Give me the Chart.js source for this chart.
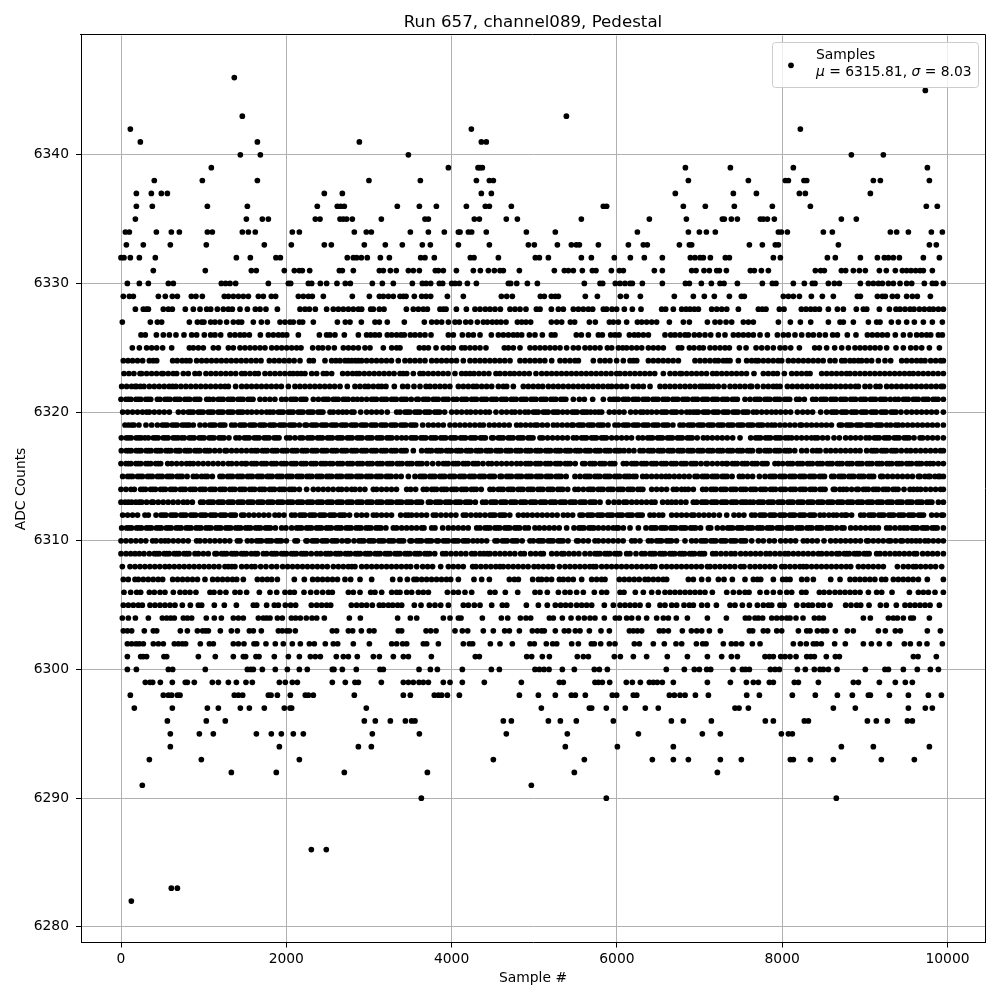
<!DOCTYPE html>
<html>
<head>
<meta charset="utf-8">
<title>Run 657, channel089, Pedestal</title>
<script src="https://cdn.jsdelivr.net/npm/chart.js@4/dist/chart.umd.js"></script>
<style>
html, body { margin: 0; padding: 0; background: #fff; }
canvas { display: block; }
</style>
</head>
<body>
<canvas id="chart" width="1000" height="1000"></canvas>
<script>
const chartTitle = 'Run 657, channel089, Pedestal';
const xLabel = 'Sample #';
const yLabel = 'ADC Counts';
const seriesLabel = 'Samples';
const meanText = '6315.81';
const sigmaText = '8.03';
const xTicks = [0, 2000, 4000, 6000, 8000, 10000];
const yTicks = [6280, 6290, 6300, 6310, 6320, 6330, 6340];

// sample numbers seen at each ADC level
const s6346 = [1371];
const s6345 = [9732];
const s6343 = [1468, 5389];
const s6342 = [113, 4239, 8220];
const s6341 = [234, 1650, 2884, 4360, 4420];
const s6340 = [1444, 1686, 3477, 8837, 9224];
const s6339 = [1093, 3961, 4320, 4344, 4372, 6829, 7373, 8135, 9757];
const s6338 = [403, 984, 1650, 3000, 3622, 4300, 4457, 4505, 6865, 7591, 8038, 8075, 8264, 8297, 9103, 9188, 9781];
const s6337 = [186, 367, 488, 561, 2460, 2678, 4360, 4481, 6707, 7409, 7688, 8208, 8280, 9067];
const s6336 = [186, 379, 1045, 1529, 2375, 2617, 2658, 2702, 3343, 3610, 3816, 4179, 4408, 4457, 4723, 5836, 5876, 6804, 7070, 7421, 7881, 8341, 9744, 9877];
const s6335 = [174, 1517, 1710, 1783, 2351, 2408, 2650, 2690, 2730, 2799, 3150, 3678, 3719, 4275, 4336, 4662, 4796, 5570, 6393, 6841, 7276, 7300, 7385, 7458, 7736, 7772, 7821, 7905, 8716, 8897];
const s6334 = [53, 101, 428, 609, 706, 1045, 1105, 1468, 1541, 1625, 2073, 2158, 2823, 2968, 3029, 3501, 3719, 3912, 4082, 4102, 4203, 4243, 4420, 4905, 5255, 6248, 6865, 6998, 7083, 7191, 7954, 7990, 8063, 8498, 8607, 9309, 9385, 9527, 9805, 9938];
const s6333 = [65, 270, 597, 1032, 1734, 2061, 2460, 2545, 2944, 3198, 3404, 3646, 3743, 4082, 4457, 4929, 5001, 5280, 5449, 5509, 5546, 5776, 6139, 6320, 6368, 6756, 6877, 6905, 7603, 7760, 7917, 7954, 8680, 9781, 9865];
const s6332 = [0, 36, 113, 222, 415, 1396, 1565, 1875, 1928, 2738, 2811, 2851, 2908, 2980, 3138, 3247, 3626, 3678, 3791, 4227, 4271, 4566, 5013, 5062, 5171, 5570, 5691, 5969, 6163, 6332, 6550, 6889, 6945, 7006, 7046, 7131, 7312, 7361, 7893, 7978, 8547, 8643, 8946, 9152, 9236, 9285, 9345, 9418, 9708, 9902];
const s6331 = [391, 1020, 1577, 1637, 1976, 2097, 2158, 2194, 2283, 2642, 2678, 2811, 3126, 3174, 3259, 3331, 3477, 3537, 3610, 3803, 3840, 3900, 4058, 4263, 4348, 4445, 4517, 4586, 4626, 4820, 5243, 5364, 5413, 5473, 5582, 5703, 5747, 5933, 6030, 6078, 6453, 6550, 6905, 6958, 7054, 7119, 7208, 7240, 7325, 7615, 7663, 7748, 7833, 8401, 8466, 8510, 8716, 8768, 8861, 8934, 9006, 9176, 9260, 9369, 9454, 9506, 9559, 9615, 9668, 9708, 9817];
const s6330 = [77, 222, 331, 573, 633, 1214, 1266, 1319, 1387, 1783, 2025, 2053, 2267, 2307, 2412, 2488, 2613, 2714, 2775, 3041, 3162, 3295, 3525, 3646, 3691, 3747, 3852, 3892, 4001, 4041, 4094, 4191, 4300, 4687, 4715, 4788, 4917, 5038, 5606, 5796, 5828, 5981, 6038, 6098, 6159, 6187, 6308, 6550, 6829, 6877, 7022, 7143, 7248, 7296, 7458, 7760, 7881, 7925, 8135, 8268, 8365, 8397, 8559, 8631, 8692, 8946, 9043, 9103, 9164, 9212, 9285, 9345, 9426, 9506, 9567, 9720, 9817, 9861, 9950];
const s6329 = [28, 101, 149, 452, 536, 621, 682, 851, 907, 984, 1250, 1299, 1359, 1420, 1480, 1541, 1662, 1722, 1819, 1871, 2146, 2206, 2267, 2315, 2448, 2799, 3005, 3126, 3174, 3235, 3295, 3376, 3416, 3449, 3549, 3638, 3691, 3747, 3949, 4142, 4602, 4667, 4735, 5074, 5122, 5207, 5255, 5292, 5618, 5764, 6042, 6114, 6284, 6695, 6925, 7058, 7179, 7361, 7506, 7542, 8014, 8075, 8135, 8208, 8353, 8486, 8619, 8910, 8946, 9152, 9212, 9248, 9333, 9394, 9506, 9575, 9635, 9793];
const s6328 = [174, 270, 310, 331, 512, 573, 621, 778, 875, 956, 1037, 1085, 1166, 1238, 1299, 1347, 1440, 1529, 1625, 1682, 1754, 1892, 2166, 2226, 2279, 2351, 2488, 2569, 2630, 2690, 2751, 2811, 2872, 2912, 3021, 3053, 3126, 3182, 3453, 3537, 3598, 3658, 3707, 3860, 3900, 3933, 4058, 4179, 4283, 4344, 4408, 4465, 4525, 4590, 4707, 4767, 4828, 4900, 5026, 5070, 5207, 5292, 5352, 5473, 5534, 5594, 5655, 5707, 5836, 5876, 5941, 5997, 6090, 6187, 6292, 6542, 6590, 6683, 6784, 6837, 6885, 6937, 6986, 7147, 7208, 7268, 7329, 7470, 7712, 7760, 7804, 7966, 8022, 8232, 8288, 8345, 8397, 8450, 8559, 8668, 8740, 8897, 8982, 9023, 9176, 9297, 9377, 9426, 9486, 9547, 9595, 9660, 9720, 9781, 9829, 9890, 9950];
const s6327 = [16, 355, 440, 492, 827, 924, 976, 1004, 1085, 1137, 1198, 1278, 1359, 1420, 1460, 1601, 1698, 1771, 1924, 1984, 2045, 2085, 2158, 2198, 2327, 2618, 2714, 2771, 2908, 3073, 3126, 3222, 3428, 3670, 3759, 3820, 3880, 3961, 4041, 4094, 4171, 4231, 4312, 4384, 4433, 4493, 4546, 4598, 4659, 4796, 4848, 4900, 4957, 5207, 5272, 5332, 5437, 5489, 5667, 5739, 5909, 5957, 6018, 6118, 6248, 6300, 6360, 6421, 6481, 6635, 6804, 6877, 7095, 7187, 7248, 7321, 7389, 7530, 7591, 7651, 7954, 8099, 8220, 8345, 8559, 8700, 8740, 8861, 9043, 9143, 9184, 9321, 9406, 9506, 9599, 9708, 9817, 9938];
const s6326 = [242, 294, 428, 512, 585, 665, 762, 855, 915, 1008, 1085, 1137, 1206, 1319, 1379, 1440, 1492, 1553, 1686, 1783, 1843, 1904, 1956, 2005, 2146, 2400, 2488, 2529, 2589, 2702, 2872, 2972, 3021, 3073, 3126, 3222, 3275, 3335, 3388, 3428, 3501, 3557, 3618, 3678, 3751, 3961, 4021, 4130, 4203, 4263, 4344, 4481, 4566, 4626, 4687, 4747, 4796, 4848, 4941, 5009, 5098, 5207, 5251, 5509, 5570, 5655, 5776, 5824, 5925, 5977, 6026, 6151, 6211, 6260, 6320, 6381, 6582, 6651, 6703, 6764, 6825, 6865, 6937, 6998, 7066, 7135, 7228, 7308, 7409, 7470, 7530, 7591, 7651, 7732, 7821, 7942, 8014, 8075, 8155, 8236, 8317, 8377, 8450, 8522, 8611, 8668, 8788, 8893, 9031, 9091, 9152, 9212, 9273, 9369, 9466, 9547, 9627, 9688, 9748, 9797, 9890, 9938];
const s6325 = [137, 222, 310, 371, 432, 504, 613, 827, 875, 936, 996, 1117, 1178, 1299, 1359, 1440, 1500, 1561, 1621, 1682, 1742, 1823, 1884, 1944, 2005, 2065, 2125, 2178, 2319, 2388, 2440, 2508, 2581, 2690, 2751, 2811, 2872, 2952, 3013, 3174, 3275, 3335, 3376, 3610, 3666, 3719, 3812, 3900, 3961, 4021, 4122, 4162, 4223, 4283, 4344, 4416, 4638, 4687, 4747, 4828, 4949, 5009, 5070, 5130, 5191, 5251, 5312, 5392, 5473, 5534, 5614, 5675, 5735, 5796, 5885, 5937, 6018, 6070, 6118, 6179, 6240, 6300, 6381, 6441, 6501, 6562, 6744, 6784, 6877, 6933, 6998, 7046, 7127, 7187, 7248, 7308, 7361, 7482, 7563, 7684, 7752, 7821, 7893, 7974, 8034, 8103, 8208, 8393, 8450, 8538, 8635, 8720, 8801, 8881, 8942, 9002, 9063, 9123, 9184, 9264, 9377, 9466, 9555, 9619, 9688, 9781, 9902];
const s6324 = [28, 85, 140, 200, 262, 343, 390, 432, 625, 680, 740, 790, 835, 915, 976, 1035, 1095, 1155, 1215, 1275, 1335, 1395, 1455, 1515, 1575, 1635, 1694, 1795, 1855, 1915, 1975, 2035, 2095, 2166, 2279, 2327, 2468, 2549, 2600, 2650, 2710, 2750, 2791, 2835, 2872, 2912, 2972, 3032, 3092, 3152, 3212, 3272, 3355, 3436, 3496, 3556, 3616, 3678, 3759, 3819, 3879, 3939, 3999, 4059, 4142, 4223, 4283, 4343, 4403, 4463, 4523, 4583, 4643, 4707, 4828, 4888, 4948, 5008, 5068, 5128, 5211, 5312, 5372, 5432, 5492, 5534, 5715, 5796, 5856, 5916, 5997, 6078, 6159, 6200, 6240, 6381, 6441, 6501, 6561, 6621, 6681, 6744, 6945, 7006, 7066, 7126, 7186, 7228, 7288, 7330, 7369, 7470, 7570, 7630, 7680, 7712, 7772, 7832, 7892, 7952, 7994, 8075, 8135, 8196, 8256, 8316, 8376, 8436, 8496, 8579, 8639, 8720, 8760, 8821, 8870, 8922, 8962, 9022, 9082, 9164, 9244, 9313, 9446, 9506, 9567, 9627, 9680, 9728, 9797, 9857, 9917, 9950];
const s6323 = [36, 96, 156, 230, 250, 310, 370, 430, 492, 512, 572, 632, 674, 754, 814, 895, 948, 1028, 1088, 1148, 1208, 1268, 1328, 1388, 1460, 1500, 1560, 1620, 1662, 1742, 1803, 1863, 1923, 1983, 2043, 2085, 2134, 2180, 2226, 2307, 2367, 2448, 2488, 2549, 2682, 2742, 2802, 2851, 2884, 2944, 3004, 3064, 3124, 3184, 3244, 3304, 3376, 3416, 3457, 3537, 3618, 3658, 3718, 3778, 3838, 3898, 3958, 4041, 4122, 4172, 4223, 4271, 4331, 4391, 4451, 4537, 4586, 4646, 4706, 4759, 4820, 4880, 4940, 5021, 5090, 5150, 5210, 5270, 5330, 5390, 5450, 5510, 5570, 5630, 5690, 5750, 5810, 5870, 5930, 5997, 6038, 6098, 6158, 6218, 6278, 6338, 6398, 6458, 6562, 6643, 6703, 6763, 6784, 6844, 6904, 6964, 7024, 7084, 7159, 7208, 7268, 7328, 7388, 7448, 7508, 7568, 7659, 7772, 7832, 7892, 7942, 8026, 8115, 8175, 8235, 8295, 8337, 8478, 8538, 8598, 8658, 8718, 8778, 8821, 8881, 8941, 9001, 9061, 9121, 9181, 9241, 9301, 9361, 9421, 9481, 9539, 9587, 9647, 9707, 9767, 9827, 9887, 9950];
const s6322 = [8, 68, 128, 170, 190, 235, 278, 343, 403, 463, 523, 583, 625, 665, 725, 785, 845, 905, 965, 1025, 1085, 1145, 1205, 1258, 1299, 1387, 1460, 1520, 1580, 1640, 1700, 1760, 1820, 1880, 1940, 2025, 2105, 2165, 2225, 2285, 2345, 2405, 2465, 2525, 2585, 2650, 2738, 2831, 2891, 2952, 2993, 3053, 3113, 3154, 3206, 3307, 3408, 3468, 3545, 3618, 3691, 3739, 3799, 3859, 3919, 3979, 4082, 4142, 4202, 4262, 4304, 4364, 4424, 4485, 4566, 4626, 4667, 4747, 4868, 4928, 4988, 5048, 5102, 5171, 5231, 5291, 5351, 5413, 5473, 5533, 5593, 5653, 5713, 5773, 5833, 5893, 5937, 5997, 6057, 6117, 6199, 6260, 6320, 6401, 6522, 6582, 6642, 6702, 6764, 6824, 6884, 6944, 7006, 7038, 7078, 7119, 7167, 7227, 7296, 7369, 7429, 7489, 7549, 7611, 7631, 7700, 7772, 7832, 7892, 7934, 7974, 8063, 8123, 8183, 8243, 8303, 8363, 8423, 8483, 8538, 8587, 8647, 8707, 8767, 8827, 8887, 8922, 9002, 9062, 9135, 9184, 9264, 9324, 9384, 9444, 9504, 9564, 9624, 9684, 9744, 9804, 9864, 9924, 9950];
const s6321 = [0, 60, 120, 180, 240, 300, 360, 440, 472, 532, 592, 652, 712, 772, 832, 892, 952, 1037, 1069, 1117, 1177, 1237, 1297, 1357, 1417, 1477, 1537, 1597, 1682, 1742, 1802, 1862, 1944, 1996, 2056, 2116, 2176, 2236, 2327, 2388, 2448, 2508, 2568, 2628, 2688, 2748, 2808, 2859, 2912, 2972, 3032, 3092, 3152, 3212, 3272, 3332, 3392, 3452, 3512, 3578, 3598, 3658, 3718, 3778, 3838, 3898, 3958, 4021, 4062, 4122, 4182, 4242, 4302, 4362, 4422, 4482, 4542, 4602, 4662, 4722, 4782, 4842, 4902, 4962, 5022, 5082, 5142, 5202, 5262, 5322, 5382, 5473, 5546, 5606, 5707, 5836, 5917, 5957, 6017, 6077, 6137, 6197, 6257, 6317, 6377, 6437, 6497, 6557, 6617, 6677, 6737, 6797, 6857, 6917, 6977, 7037, 7097, 7157, 7217, 7277, 7337, 7397, 7457, 7550, 7611, 7671, 7731, 7791, 7851, 7911, 7971, 8031, 8091, 8175, 8208, 8268, 8369, 8409, 8469, 8529, 8589, 8649, 8709, 8769, 8829, 8889, 8949, 9009, 9069, 9129, 9189, 9249, 9309, 9365, 9406, 9466, 9526, 9586, 9646, 9706, 9766, 9826, 9886, 9950, 90, 210, 330, 562, 682, 802, 922, 1207, 1327, 1447, 1567, 2086, 2206, 2478, 2598, 2718, 3062, 3182, 3302, 3422, 3688, 3808, 3928, 4152, 4272, 4392, 4512, 4632, 4752, 4872, 4992, 5112, 5232, 5352, 5987, 6107, 6227, 6347, 6467, 6587, 6707, 6827, 6947, 7067, 7187, 7307, 7427, 7701, 7821, 7941, 8061, 8499, 8619, 8739, 8859, 8979, 9099, 9219, 9496, 9616, 9736, 9856];
const s6320 = [20, 80, 140, 200, 260, 310, 343, 403, 463, 523, 585, 694, 754, 814, 874, 934, 994, 1054, 1114, 1174, 1234, 1294, 1354, 1414, 1474, 1529, 1581, 1641, 1701, 1762, 1803, 1843, 1903, 1963, 2023, 2083, 2143, 2203, 2263, 2323, 2383, 2443, 2529, 2569, 2629, 2682, 2730, 2790, 2819, 2900, 2972, 3032, 3092, 3152, 3222, 3335, 3376, 3436, 3496, 3556, 3616, 3676, 3736, 3796, 3856, 3916, 4001, 4062, 4122, 4183, 4231, 4291, 4351, 4411, 4457, 4537, 4606, 4666, 4727, 4767, 4827, 4888, 4929, 4989, 5049, 5109, 5169, 5229, 5289, 5344, 5400, 5460, 5520, 5580, 5640, 5683, 5735, 5780, 5816, 5909, 5969, 6029, 6086, 6167, 6227, 6287, 6320, 6369, 6421, 6481, 6541, 6601, 6661, 6721, 6781, 6845, 6885, 6925, 6958, 6986, 7046, 7106, 7166, 7226, 7286, 7346, 7406, 7466, 7526, 7586, 7651, 7692, 7752, 7812, 7872, 7925, 7982, 8042, 8102, 8184, 8248, 8308, 8368, 8466, 8538, 8598, 8658, 8718, 8778, 8838, 8898, 8958, 9018, 9078, 9138, 9198, 9258, 9318, 9378, 9438, 9506, 9567, 9627, 9687, 9747, 9807, 9867, 9950, 844, 964, 1084, 1204, 1324, 1444, 1933, 2053, 2173, 2293, 2413, 3466, 3586, 3706, 3826, 5019, 5139, 5259, 5490, 5610, 6571, 6691, 7076, 7196, 7316, 7436, 7556, 8628, 8748, 8868, 8988, 9108, 9228, 9348];
const s6319 = [48, 90, 129, 157, 217, 302, 371, 440, 500, 560, 620, 680, 740, 800, 827, 875, 956, 1016, 1076, 1136, 1196, 1256, 1339, 1379, 1439, 1499, 1559, 1619, 1679, 1739, 1799, 1859, 1919, 1979, 2039, 2099, 2159, 2226, 2246, 2306, 2366, 2426, 2486, 2546, 2606, 2666, 2726, 2786, 2846, 2906, 2966, 3026, 3086, 3146, 3206, 3266, 3326, 3386, 3446, 3506, 3566, 3650, 3719, 3779, 3839, 3900, 3981, 4041, 4101, 4161, 4221, 4281, 4341, 4384, 4457, 4517, 4577, 4637, 4697, 4787, 4836, 4896, 4956, 5009, 5038, 5098, 5158, 5231, 5279, 5339, 5399, 5453, 5473, 5533, 5593, 5653, 5713, 5773, 5833, 5893, 5977, 6018, 6078, 6138, 6198, 6258, 6318, 6378, 6438, 6498, 6558, 6618, 6678, 6764, 6804, 6864, 6924, 6984, 7044, 7104, 7164, 7224, 7284, 7344, 7404, 7464, 7524, 7584, 7644, 7704, 7764, 7824, 7873, 7913, 7973, 8033, 8093, 8153, 8216, 8236, 8296, 8356, 8416, 8476, 8536, 8596, 8692, 8720, 8780, 8840, 8900, 8960, 9020, 9080, 9140, 9200, 9264, 9313, 9373, 9406, 9458, 9518, 9578, 9638, 9698, 9758, 9818, 9878, 9950, 530, 650, 770, 1106, 1226, 1469, 1589, 1709, 1829, 1949, 2069, 2336, 2456, 2576, 2696, 2816, 2936, 3056, 3176, 3296, 3416, 3536, 5563, 5683, 5803, 6108, 6228, 6348, 6468, 6588, 6894, 7014, 7134, 7254, 7374, 7494, 7614, 7734, 8810, 8930, 9050, 9170];
const s6318 = [4, 64, 124, 184, 244, 290, 331, 391, 451, 511, 571, 631, 691, 734, 766, 826, 886, 946, 1006, 1066, 1126, 1186, 1246, 1306, 1391, 1432, 1492, 1552, 1612, 1672, 1732, 1792, 1852, 1912, 2005, 2045, 2105, 2166, 2198, 2258, 2318, 2378, 2438, 2498, 2558, 2618, 2678, 2738, 2798, 2858, 2918, 2978, 3038, 3098, 3158, 3218, 3278, 3338, 3396, 3449, 3509, 3569, 3629, 3689, 3749, 3809, 3869, 3929, 3989, 4049, 4109, 4169, 4229, 4289, 4349, 4409, 4485, 4505, 4565, 4625, 4685, 4745, 4805, 4865, 4925, 4985, 5070, 5102, 5162, 5222, 5282, 5342, 5402, 5473, 5513, 5573, 5633, 5693, 5753, 5813, 5873, 5937, 5997, 6057, 6117, 6177, 6260, 6312, 6372, 6432, 6492, 6552, 6612, 6672, 6732, 6792, 6852, 6912, 6972, 7046, 7095, 7155, 7215, 7275, 7335, 7401, 7490, 7619, 7679, 7739, 7799, 7859, 7919, 7979, 8039, 8075, 8115, 8175, 8235, 8295, 8355, 8397, 8429, 8489, 8549, 8627, 8692, 8768, 8828, 8888, 8948, 9014, 9055, 9115, 9175, 9235, 9295, 9355, 9415, 9475, 9535, 9595, 9668, 9700, 9760, 9820, 9880, 9950, 94, 214, 421, 541, 661, 856, 976, 1096, 1216, 1522, 1642, 1762, 1882, 2288, 2408, 2528, 2648, 2768, 2888, 3008, 3128, 3248, 3539, 3659, 3779, 3899, 4019, 4139, 4259, 4379, 4595, 4715, 4835, 4955, 5603, 5723, 5843, 6402, 6522, 6642, 6762, 6882, 7709, 7829, 7949, 9145, 9265, 9385, 9505];
const s6317 = [4, 64, 124, 184, 244, 304, 364, 424, 484, 544, 604, 664, 694, 714, 774, 834, 894, 954, 1014, 1074, 1134, 1194, 1258, 1278, 1338, 1398, 1458, 1518, 1578, 1621, 1650, 1710, 1770, 1830, 1890, 1950, 2010, 2070, 2130, 2190, 2250, 2310, 2370, 2430, 2490, 2550, 2610, 2670, 2730, 2790, 2850, 2910, 2970, 3030, 3090, 3150, 3210, 3270, 3330, 3390, 3450, 3537, 3638, 3698, 3758, 3818, 3878, 3938, 3998, 4058, 4118, 4178, 4238, 4298, 4358, 4418, 4478, 4538, 4598, 4658, 4718, 4778, 4838, 4898, 4958, 5018, 5078, 5138, 5198, 5258, 5318, 5378, 5438, 5498, 5558, 5618, 5678, 5738, 5798, 5858, 5918, 5978, 6038, 6086, 6146, 6206, 6280, 6320, 6380, 6440, 6500, 6560, 6620, 6680, 6740, 6800, 6860, 6920, 6980, 7040, 7100, 7160, 7220, 7280, 7340, 7400, 7460, 7520, 7580, 7640, 7712, 7732, 7792, 7852, 7912, 7972, 8032, 8092, 8152, 8236, 8296, 8369, 8420, 8458, 8530, 8587, 8647, 8707, 8767, 8827, 8887, 8942, 9022, 9082, 9142, 9202, 9262, 9322, 9382, 9442, 9506, 9555, 9615, 9675, 9735, 9795, 9855, 9915, 9950, 94, 214, 334, 454, 574, 804, 924, 1044, 1740, 1860, 1980, 2100, 2220, 2340, 2460, 2580, 2700, 2820, 2940, 3060, 3180, 3300, 3420, 3728, 3848, 3968, 4088, 4208, 4328, 4448, 4568, 4688, 4808, 4928, 5048, 5168, 5288, 5408, 5528, 5648, 5768, 5888, 6008, 6410, 6530, 6650, 6770, 6890, 7010, 7130, 7250, 7370, 7490, 7610, 7822, 7942, 8062, 9112, 9232, 9352];
const s6316 = [0, 60, 120, 180, 240, 300, 360, 420, 480, 565, 613, 673, 733, 793, 835, 875, 935, 995, 1055, 1115, 1175, 1235, 1299, 1339, 1399, 1459, 1500, 1520, 1580, 1640, 1700, 1760, 1820, 1880, 1940, 2000, 2060, 2120, 2180, 2240, 2300, 2360, 2420, 2480, 2529, 2561, 2621, 2681, 2741, 2801, 2861, 2921, 2981, 3041, 3101, 3161, 3221, 3281, 3341, 3401, 3461, 3521, 3581, 3641, 3701, 3771, 3840, 3900, 3960, 4020, 4080, 4140, 4200, 4260, 4320, 4380, 4445, 4485, 4545, 4605, 4665, 4725, 4787, 4836, 4896, 4956, 5016, 5076, 5136, 5196, 5256, 5316, 5376, 5436, 5496, 5586, 5614, 5674, 5734, 5794, 5854, 5914, 5974, 6078, 6118, 6178, 6238, 6298, 6358, 6418, 6478, 6538, 6598, 6658, 6718, 6778, 6838, 6898, 6958, 7018, 7079, 7095, 7155, 7215, 7275, 7321, 7337, 7397, 7457, 7517, 7577, 7637, 7697, 7757, 7817, 7913, 7954, 8006, 8066, 8126, 8186, 8246, 8306, 8366, 8426, 8486, 8546, 8606, 8666, 8726, 8786, 8846, 8906, 8966, 9026, 9086, 9146, 9206, 9266, 9326, 9386, 9446, 9506, 9566, 9626, 9686, 9746, 9789, 9829, 9889, 9950, 90, 210, 330, 450, 1610, 1730, 1850, 1970, 2090, 2210, 2330, 2450, 2651, 2771, 2891, 3011, 3131, 3251, 3371, 3491, 3611, 3930, 4050, 4170, 4290, 4926, 5046, 5166, 5286, 5406, 5704, 5824, 5944, 6208, 6328, 6448, 6568, 6688, 6808, 6928, 7427, 7547, 7667, 7787, 8096, 8216, 8336, 8456, 8576, 8696, 8816, 8936, 9056, 9176, 9296, 9416, 9536, 9656];
const s6315 = [20, 80, 140, 200, 260, 320, 380, 440, 500, 560, 620, 680, 740, 800, 875, 915, 975, 1016, 1045, 1105, 1198, 1230, 1290, 1350, 1410, 1470, 1530, 1590, 1650, 1710, 1770, 1830, 1890, 1950, 2010, 2070, 2130, 2190, 2250, 2310, 2370, 2430, 2490, 2550, 2610, 2670, 2730, 2790, 2850, 2910, 2970, 3030, 3090, 3150, 3210, 3270, 3330, 3390, 3477, 3557, 3617, 3677, 3737, 3797, 3857, 3917, 3977, 4037, 4097, 4157, 4217, 4277, 4337, 4397, 4457, 4517, 4586, 4606, 4666, 4726, 4786, 4846, 4906, 4966, 5026, 5086, 5146, 5206, 5266, 5326, 5386, 5493, 5554, 5614, 5674, 5734, 5794, 5854, 5914, 5974, 6034, 6094, 6154, 6199, 6231, 6312, 6360, 6420, 6480, 6540, 6594, 6635, 6695, 6755, 6815, 6875, 6945, 6974, 7034, 7094, 7154, 7214, 7274, 7334, 7394, 7482, 7522, 7582, 7642, 7724, 7792, 7852, 7912, 7972, 8032, 8092, 8152, 8212, 8272, 8332, 8392, 8452, 8512, 8599, 8627, 8687, 8747, 8807, 8867, 8927, 8987, 9047, 9107, 9192, 9216, 9276, 9336, 9396, 9456, 9516, 9576, 9648, 9668, 9728, 9769, 9789, 9849, 9890, 9910, 9950, 110, 230, 350, 470, 590, 710, 1320, 1440, 1560, 1680, 1800, 1920, 2040, 2160, 2280, 2400, 2520, 2640, 2760, 2880, 3000, 3120, 3240, 3647, 3767, 3887, 4007, 4127, 4247, 4367, 4487, 4696, 4816, 4936, 5056, 5176, 5296, 5644, 5764, 5884, 6004, 6124, 7064, 7184, 7304, 7882, 8002, 8122, 8242, 8362, 8482, 8717, 8837, 8957, 9077];
const s6314 = [0, 60, 120, 161, 238, 298, 358, 418, 478, 538, 598, 658, 718, 778, 838, 898, 958, 1018, 1078, 1138, 1198, 1258, 1318, 1378, 1438, 1498, 1558, 1618, 1678, 1738, 1798, 1858, 1918, 1978, 2038, 2098, 2158, 2246, 2327, 2387, 2447, 2507, 2567, 2630, 2670, 2730, 2791, 2831, 2891, 2951, 3053, 3093, 3153, 3213, 3273, 3333, 3457, 3505, 3565, 3658, 3699, 3759, 3819, 3879, 3939, 3999, 4059, 4119, 4179, 4239, 4299, 4359, 4465, 4505, 4565, 4625, 4685, 4745, 4805, 4865, 4925, 4985, 5045, 5105, 5165, 5225, 5285, 5345, 5405, 5493, 5534, 5594, 5654, 5714, 5774, 5834, 5894, 5954, 6014, 6074, 6134, 6194, 6254, 6314, 6421, 6481, 6541, 6601, 6683, 6723, 6783, 6824, 6865, 6925, 7038, 7079, 7139, 7199, 7259, 7319, 7379, 7439, 7499, 7559, 7619, 7679, 7739, 7799, 7859, 7919, 7979, 8039, 8099, 8159, 8219, 8279, 8339, 8399, 8459, 8519, 8619, 8639, 8699, 8740, 8780, 8840, 8901, 8922, 8982, 9042, 9102, 9162, 9222, 9282, 9342, 9402, 9474, 9547, 9590, 9635, 9676, 9736, 9796, 9856, 9916, 9950, 268, 388, 508, 628, 748, 868, 988, 1108, 1228, 1348, 1468, 1588, 1708, 1828, 1948, 2068, 3789, 3909, 4029, 4149, 4269, 4595, 4715, 4835, 4955, 5075, 5195, 5315, 5684, 5804, 5924, 6044, 6164, 6284, 7169, 7289, 7409, 7529, 7649, 7769, 7889, 8009, 8129, 8249, 8369, 8489, 9012, 9132, 9252, 9372];
const s6313 = [0, 50, 89, 129, 180, 222, 250, 310, 371, 391, 451, 511, 571, 631, 691, 754, 803, 863, 964, 996, 1056, 1116, 1176, 1236, 1296, 1356, 1416, 1476, 1536, 1596, 1656, 1716, 1776, 1836, 1896, 1956, 2016, 2076, 2136, 2196, 2256, 2316, 2376, 2436, 2496, 2556, 2616, 2676, 2736, 2796, 2856, 2916, 2976, 3036, 3096, 3156, 3216, 3276, 3336, 3396, 3456, 3516, 3576, 3636, 3719, 3747, 3807, 3867, 3927, 3987, 4047, 4107, 4167, 4227, 4287, 4376, 4416, 4476, 4536, 4596, 4656, 4716, 4776, 4836, 4896, 4956, 5016, 5076, 5136, 5196, 5256, 5316, 5376, 5436, 5496, 5556, 5616, 5676, 5736, 5796, 5897, 5965, 6025, 6085, 6118, 6179, 6239, 6299, 6359, 6419, 6461, 6554, 6614, 6663, 6715, 6775, 6835, 6925, 6966, 7026, 7086, 7146, 7206, 7266, 7326, 7386, 7446, 7506, 7566, 7611, 7651, 7711, 7771, 7831, 7891, 7951, 8011, 8071, 8131, 8191, 8251, 8311, 8371, 8431, 8491, 8551, 8611, 8671, 8731, 8791, 8851, 8911, 8971, 9031, 9091, 9151, 9211, 9271, 9331, 9391, 9451, 9511, 9571, 9631, 9691, 9751, 9811, 9890, 9950, 1086, 1206, 1326, 1446, 1566, 1686, 1806, 1926, 2046, 2166, 2286, 2406, 2526, 2646, 2766, 2886, 3006, 3126, 3246, 3366, 3486, 3606, 3837, 3957, 4077, 4197, 4506, 4626, 4746, 4866, 4986, 5106, 5226, 5346, 5466, 5586, 5706, 7056, 7176, 7296, 7416, 7536, 7741, 7861, 7981, 8101, 8221, 8341, 8461, 8581, 8701, 8821, 8941, 9061, 9181, 9301, 9421, 9541, 9661, 9781];
const s6312 = [20, 80, 140, 200, 290, 331, 424, 484, 544, 604, 664, 724, 784, 844, 904, 964, 1024, 1084, 1144, 1204, 1264, 1324, 1384, 1460, 1488, 1548, 1608, 1668, 1728, 1788, 1863, 1912, 1972, 2065, 2105, 2165, 2225, 2285, 2345, 2405, 2465, 2525, 2585, 2645, 2705, 2765, 2851, 2912, 2972, 3053, 3093, 3153, 3213, 3273, 3384, 3444, 3477, 3517, 3577, 3637, 3697, 3779, 3812, 3872, 3932, 3992, 4052, 4142, 4175, 4235, 4295, 4344, 4404, 4464, 4524, 4584, 4644, 4704, 4808, 4868, 4917, 4977, 5037, 5097, 5157, 5217, 5277, 5352, 5405, 5465, 5554, 5586, 5646, 5706, 5766, 5826, 5886, 5946, 6006, 6066, 6126, 6186, 6246, 6306, 6401, 6449, 6509, 6554, 6663, 6723, 6783, 6843, 6905, 6933, 6993, 7053, 7113, 7173, 7240, 7329, 7417, 7477, 7537, 7631, 7671, 7731, 7791, 7851, 7911, 7971, 8031, 8091, 8151, 8211, 8271, 8331, 8391, 8458, 8506, 8566, 8619, 8660, 8720, 8760, 8780, 8840, 8950, 8990, 9050, 9110, 9170, 9230, 9290, 9350, 9410, 9470, 9530, 9590, 9650, 9710, 9809, 9869, 9929, 9950, 514, 634, 754, 874, 994, 1114, 1234, 1354, 2195, 2315, 2435, 2555, 2675, 4494, 4614, 5676, 5796, 5916, 6036, 6156, 6276, 7761, 7881, 8001, 8121, 8241, 8361, 9080, 9200, 9320, 9440, 9560, 9680];
const s6311 = [8, 68, 128, 188, 248, 308, 368, 428, 488, 548, 608, 668, 728, 788, 848, 908, 968, 1028, 1088, 1148, 1208, 1268, 1328, 1388, 1448, 1508, 1568, 1628, 1688, 1748, 1808, 1868, 1944, 1996, 2065, 2125, 2185, 2245, 2305, 2365, 2425, 2485, 2545, 2605, 2665, 2725, 2785, 2845, 2905, 2965, 3025, 3085, 3145, 3205, 3295, 3335, 3396, 3456, 3516, 3576, 3638, 3666, 3759, 3799, 3892, 3961, 4021, 4081, 4141, 4201, 4304, 4344, 4404, 4464, 4524, 4584, 4644, 4704, 4764, 4824, 4888, 4929, 5009, 5062, 5122, 5182, 5242, 5302, 5392, 5481, 5541, 5601, 5661, 5721, 5776, 5836, 5896, 5956, 5997, 6018, 6078, 6159, 6260, 6352, 6412, 6472, 6532, 6592, 6652, 6712, 6772, 6832, 6892, 6952, 7012, 7107, 7135, 7216, 7280, 7340, 7400, 7460, 7520, 7580, 7640, 7700, 7760, 7820, 7880, 7940, 8000, 8060, 8120, 8180, 8240, 8300, 8360, 8420, 8480, 8540, 8600, 8660, 8720, 8748, 8829, 8889, 8949, 9009, 9069, 9115, 9164, 9264, 9305, 9365, 9425, 9474, 9515, 9575, 9635, 9695, 9755, 9815, 9875, 9950, 98, 218, 338, 458, 578, 698, 818, 938, 1058, 1178, 1298, 1418, 1538, 1658, 1778, 2155, 2275, 2395, 2515, 2635, 2755, 2875, 2995, 3115, 4434, 4554, 4674, 4794, 5571, 5691, 6442, 6562, 6682, 6802, 6922, 7370, 7490, 7610, 7730, 7850, 7970, 8090, 8210, 8330, 8450, 8570, 9605, 9725, 9845];
const s6310 = [0, 60, 120, 180, 240, 300, 383, 424, 484, 532, 573, 633, 693, 753, 813, 915, 956, 1016, 1076, 1136, 1196, 1256, 1316, 1408, 1440, 1529, 1581, 1641, 1701, 1761, 1821, 1881, 1941, 2001, 2105, 2134, 2238, 2254, 2314, 2374, 2434, 2494, 2554, 2614, 2674, 2730, 2751, 2819, 2879, 2939, 2999, 3059, 3119, 3179, 3239, 3299, 3359, 3419, 3497, 3517, 3577, 3637, 3697, 3757, 3819, 3840, 3900, 3960, 4020, 4080, 4140, 4200, 4260, 4312, 4364, 4424, 4525, 4554, 4614, 4674, 4734, 4794, 4854, 4949, 4989, 5049, 5109, 5169, 5229, 5289, 5349, 5409, 5513, 5534, 5594, 5654, 5735, 5776, 5836, 5896, 5956, 6016, 6076, 6179, 6219, 6279, 6381, 6421, 6481, 6541, 6601, 6661, 6721, 6824, 6905, 6958, 7018, 7078, 7138, 7198, 7258, 7318, 7378, 7438, 7498, 7558, 7631, 7712, 7772, 7845, 7905, 7982, 8042, 8102, 8162, 8256, 8304, 8364, 8424, 8506, 8587, 8647, 8707, 8767, 8827, 8887, 8947, 9022, 9043, 9103, 9163, 9223, 9285, 9313, 9373, 9434, 9458, 9518, 9567, 9619, 9668, 9728, 9769, 9829, 9889, 9950, 1671, 1791, 1911, 2344, 2464, 2584, 2909, 3029, 3149, 3269, 3389, 3607, 3727, 3930, 4050, 4170, 4644, 4764, 5079, 5199, 5319, 6511, 6631, 7048, 7168, 7288, 7408, 7528];
const s6309 = [0, 61, 117, 170, 222, 278, 343, 403, 463, 523, 583, 643, 703, 763, 823, 895, 936, 996, 1056, 1137, 1157, 1217, 1277, 1337, 1397, 1457, 1517, 1577, 1621, 1650, 1722, 1762, 1822, 1882, 1942, 2002, 2062, 2122, 2182, 2242, 2302, 2368, 2416, 2476, 2536, 2596, 2656, 2716, 2776, 2836, 2896, 2956, 3016, 3076, 3136, 3196, 3256, 3316, 3376, 3436, 3496, 3556, 3616, 3676, 3736, 3796, 3892, 3933, 3993, 4053, 4113, 4173, 4243, 4283, 4344, 4390, 4433, 4465, 4525, 4585, 4645, 4705, 4765, 4836, 4880, 4957, 5017, 5077, 5110, 5211, 5272, 5332, 5360, 5420, 5480, 5540, 5614, 5675, 5735, 5795, 5855, 5915, 5975, 6035, 6118, 6159, 6231, 6300, 6340, 6400, 6460, 6520, 6580, 6640, 6700, 6760, 6820, 6880, 6940, 7000, 7060, 7159, 7200, 7260, 7320, 7380, 7429, 7498, 7558, 7618, 7678, 7738, 7804, 7853, 7913, 7973, 8033, 8075, 8135, 8195, 8255, 8315, 8375, 8438, 8478, 8538, 8598, 8660, 8692, 8752, 8812, 8872, 8932, 8992, 9052, 9143, 9184, 9244, 9304, 9365, 9418, 9478, 9538, 9598, 9627, 9700, 9760, 9820, 9880, 9950, 433, 553, 673, 793, 1247, 1367, 1487, 1852, 1972, 2092, 2212, 2506, 2626, 2746, 2866, 2986, 3106, 3226, 3346, 3466, 3586, 3706, 5765, 5885, 6005, 6430, 6550, 6670, 6790, 6910, 7030, 8782, 8902, 9022];
const s6308 = [16, 109, 169, 229, 289, 349, 409, 469, 532, 585, 645, 705, 765, 825, 885, 945, 1005, 1065, 1125, 1185, 1258, 1299, 1340, 1379, 1460, 1520, 1580, 1621, 1690, 1754, 1823, 1884, 1956, 2016, 2076, 2136, 2196, 2256, 2316, 2376, 2436, 2496, 2569, 2630, 2690, 2750, 2791, 2831, 2912, 2972, 3033, 3093, 3153, 3213, 3273, 3333, 3393, 3453, 3505, 3578, 3650, 3710, 3770, 3868, 3961, 4021, 4081, 4141, 4255, 4295, 4355, 4415, 4475, 4535, 4586, 4626, 4686, 4746, 4806, 4866, 4926, 4997, 5050, 5110, 5170, 5223, 5304, 5372, 5432, 5492, 5552, 5612, 5672, 5715, 5747, 5816, 5876, 5936, 5996, 6056, 6116, 6179, 6240, 6300, 6360, 6420, 6461, 6542, 6602, 6662, 6722, 6782, 6842, 6902, 6962, 7022, 7095, 7127, 7187, 7247, 7307, 7367, 7427, 7498, 7538, 7611, 7671, 7731, 7791, 7851, 7911, 7994, 8034, 8094, 8154, 8214, 8256, 8296, 8356, 8416, 8476, 8536, 8596, 8656, 8716, 8776, 8829, 8922, 8982, 9042, 9102, 9164, 9224, 9394, 9466, 9526, 9586, 9619, 9676, 9736, 9796, 9856, 9930];
const s6307 = [28, 88, 170, 210, 270, 330, 390, 450, 504, 625, 685, 745, 805, 865, 925, 1016, 1109, 1169, 1229, 1289, 1349, 1400, 1480, 1650, 1710, 1770, 1823, 1892, 2097, 2218, 2319, 2379, 2439, 2499, 2559, 2619, 2710, 2779, 2892, 3033, 3287, 3376, 3465, 3545, 3578, 3638, 3698, 3758, 3818, 3878, 3938, 3989, 4082, 4271, 4364, 4457, 4699, 4760, 4808, 4981, 5050, 5090, 5150, 5210, 5304, 5352, 5412, 5472, 5574, 5695, 5755, 5815, 5856, 6030, 6090, 6150, 6210, 6270, 6340, 6381, 6441, 6501, 6561, 6602, 6865, 6925, 7026, 7107, 7228, 7296, 7397, 7550, 7651, 7700, 7740, 7893, 8006, 8050, 8095, 8236, 8300, 8377, 8587, 8700, 8821, 8881, 8941, 9001, 9061, 9121, 9204, 9252, 9345, 9405, 9465, 9525, 9585, 9648, 9756, 9950];
const s6306 = [36, 117, 190, 238, 343, 403, 472, 532, 633, 714, 775, 835, 907, 1077, 1125, 1198, 1270, 1379, 1440, 1520, 1674, 1803, 1884, 1984, 2045, 2097, 2214, 2295, 2368, 2440, 2509, 2557, 2751, 2811, 2892, 3021, 3073, 3154, 3275, 3335, 3376, 3457, 3517, 3598, 3658, 3719, 3949, 4021, 4082, 4162, 4243, 4465, 4525, 4650, 4800, 5009, 5070, 5158, 5292, 5372, 5433, 5513, 5594, 5727, 5816, 5876, 6038, 6086, 6223, 6320, 6421, 6501, 6582, 6643, 6703, 6764, 6825, 6885, 6945, 7006, 7066, 7155, 7329, 7409, 7482, 7550, 7599, 7732, 7813, 7893, 7974, 8055, 8115, 8236, 8288, 8450, 8506, 8571, 8639, 8700, 8760, 8821, 8881, 8942, 9043, 9143, 9204, 9329, 9539, 9648, 9708, 9769, 9849, 9950];
const s6305 = [28, 89, 149, 210, 258, 351, 411, 472, 532, 593, 653, 742, 839, 936, 976, 1129, 1250, 1396, 1601, 1642, 1762, 1855, 1904, 1988, 2053, 2113, 2303, 2368, 2428, 2488, 2537, 2787, 2851, 2912, 2972, 3041, 3126, 3174, 3235, 3287, 3347, 3396, 3549, 3630, 3731, 3799, 3868, 3961, 4142, 4203, 4275, 4344, 4485, 4614, 4667, 4905, 5050, 5158, 5255, 5320, 5380, 5441, 5513, 5574, 5634, 5695, 5848, 5957, 6038, 6098, 6159, 6219, 6280, 6381, 6522, 6582, 6663, 6723, 6812, 6877, 6925, 7026, 7095, 7204, 7369, 7429, 7518, 7603, 7700, 7772, 7833, 7873, 7974, 8022, 8176, 8256, 8317, 8365, 8438, 8498, 8579, 8768, 8833, 8901, 8950, 9051, 9188, 9260, 9381, 9486, 9547, 9607, 9668, 9728, 9789, 9902];
const s6304 = [16, 89, 174, 331, 500, 553, 601, 645, 754, 803, 855, 1032, 1129, 1214, 1359, 1420, 1480, 1662, 1722, 1762, 1803, 1892, 1952, 2061, 2113, 2170, 2242, 2311, 2368, 2460, 2763, 2896, 3347, 3501, 3578, 3900, 3981, 4082, 4114, 4372, 4602, 4679, 4832, 4900, 4957, 5183, 5231, 5340, 5445, 5534, 5606, 5675, 5735, 5848, 5981, 6030, 6118, 6179, 6260, 6360, 6481, 6562, 6623, 6719, 6853, 7095, 7325, 7554, 7599, 7671, 7712, 7764, 7873, 7934, 7994, 8055, 8095, 8167, 8252, 8389, 8446, 8498, 8982, 9067, 9285, 9345, 9394, 9466, 9555, 9587, 9781];
const s6303 = [28, 77, 129, 282, 391, 432, 718, 803, 924, 988, 1024, 1057, 1202, 1335, 1408, 1553, 1601, 1698, 1904, 1952, 2005, 2037, 2109, 2557, 2609, 2751, 2803, 2908, 3005, 3061, 3355, 3396, 3691, 3747, 3812, 4041, 4130, 4195, 4384, 4505, 4642, 4699, 4820, 4977, 5038, 5090, 5122, 5255, 5364, 5417, 5497, 5554, 5667, 5808, 5909, 6151, 6199, 6248, 6300, 6514, 6562, 6623, 6792, 6901, 6966, 7026, 7119, 7252, 7603, 7643, 7772, 7825, 7934, 7994, 8196, 8297, 8337, 8426, 8490, 8538, 8643, 8788, 8861, 9164, 9248, 9369, 9430, 9756, 9914];
const s6302 = [77, 129, 182, 222, 270, 391, 452, 512, 645, 694, 742, 782, 960, 1069, 1117, 1359, 1420, 1488, 1609, 1642, 1754, 1867, 1964, 2073, 2170, 2279, 2339, 2472, 2569, 2622, 2811, 3005, 3275, 3335, 3408, 3457, 3658, 3699, 3840, 4142, 4215, 4255, 4469, 4586, 4735, 4949, 5001, 5146, 5223, 5272, 5453, 5534, 5691, 5727, 5804, 5909, 5977, 6211, 6272, 6441, 6574, 6715, 6784, 6962, 7038, 7079, 7288, 7385, 7442, 7510, 7639, 7732, 8135, 8220, 8292, 8377, 8417, 8474, 8635, 8764, 8982, 9079, 9176, 9297, 9478, 9551, 9660, 9752, 9938];
const s6301 = [77, 238, 270, 310, 520, 553, 936, 1141, 1359, 1480, 1508, 1633, 1670, 1855, 2025, 2158, 2291, 2351, 2412, 2605, 2690, 2751, 2859, 3053, 3126, 3295, 3416, 3477, 3755, 4287, 4336, 4909, 4969, 5098, 5183, 5521, 5594, 5655, 5969, 6042, 6199, 6360, 6610, 6853, 7095, 7268, 7385, 7458, 7792, 7845, 7893, 7982, 8034, 8095, 8168, 8297, 8345, 8389, 8534, 8643, 8692, 9587, 9644, 9865];
const s6300 = [77, 186, 573, 625, 1020, 1529, 1569, 1601, 1710, 1867, 2013, 2158, 2254, 2557, 2577, 2678, 2847, 3134, 3174, 3606, 3743, 3828, 4130, 4481, 4578, 5009, 5062, 5118, 5179, 5340, 5485, 5727, 5788, 5885, 6598, 6816, 6937, 6998, 7087, 7135, 7405, 7518, 7558, 7603, 7857, 7913, 7966, 8184, 8280, 8389, 8458, 8498, 8559, 8664, 9006, 9244, 9285, 9466, 9635, 9793, 9890];
const s6299 = [294, 351, 383, 476, 621, 778, 803, 887, 1105, 1178, 1299, 1396, 1512, 1589, 1916, 1988, 2073, 2134, 2557, 2714, 2831, 2872, 3150, 3416, 3477, 3537, 3606, 3658, 3719, 3900, 3981, 4130, 4396, 4844, 5304, 5352, 5735, 5776, 5824, 5913, 6114, 6187, 6284, 6393, 6441, 6489, 6550, 6683, 7095, 7373, 7567, 7651, 7712, 7845, 7893, 8147, 8196, 8438, 8861, 8922, 9176, 9369, 9490, 9575];
const s6298 = [113, 512, 573, 613, 682, 714, 1371, 1420, 1472, 1783, 1815, 1892, 2049, 2230, 2267, 2327, 2823, 3416, 3501, 3791, 3840, 3880, 3949, 4094, 4820, 5050, 5255, 5449, 5497, 5618, 5945, 5997, 6199, 6240, 6635, 6695, 6764, 6825, 6950, 7107, 7571, 7724, 8123, 8401, 8668, 8849, 9043, 9067, 9297, 9527, 9769, 9926];
const s6297 = [161, 621, 1045, 1178, 1444, 1553, 1734, 1976, 2045, 2065, 2968, 5086, 5667, 5695, 5872, 6102, 6344, 6501, 7429, 7478, 7591, 8619, 8885, 9527, 9732, 9817];
const s6296 = [561, 1032, 1262, 2944, 3077, 3259, 3441, 3517, 3557, 4626, 4723, 5171, 5316, 5509, 5957, 6659, 6804, 7143, 7796, 7893, 8268, 8317, 9031, 9139, 9273, 9515, 9575];
const s6295 = [597, 948, 1117, 1638, 1819, 1940, 2085, 2206, 3041, 3610, 4662, 5400, 6260, 7034, 7252, 7990, 8075, 8123];
const s6294 = [597, 1916, 2872, 3029, 5376, 6006, 6683, 8716, 9103, 9781];
const s6293 = [343, 972, 2158, 4505, 5606, 6429, 6683, 6865, 7252, 7506, 8099, 8135, 8341, 8619, 9200, 9599];
const s6292 = [1335, 1879, 2702, 3707, 5485, 7216];
const s6291 = [258, 4965];
const s6290 = [3634, 5872, 8655];
const s6286 = [2303, 2484];
const s6283 = [609, 682];
const s6282 = [125];

const levels = [
    [6346, s6346], [6345, s6345], [6343, s6343], [6342, s6342], [6341, s6341], [6340, s6340],
    [6339, s6339], [6338, s6338], [6337, s6337], [6336, s6336], [6335, s6335], [6334, s6334],
    [6333, s6333], [6332, s6332], [6331, s6331], [6330, s6330], [6329, s6329], [6328, s6328],
    [6327, s6327], [6326, s6326], [6325, s6325], [6324, s6324], [6323, s6323], [6322, s6322],
    [6321, s6321], [6320, s6320], [6319, s6319], [6318, s6318], [6317, s6317], [6316, s6316],
    [6315, s6315], [6314, s6314], [6313, s6313], [6312, s6312], [6311, s6311], [6310, s6310],
    [6309, s6309], [6308, s6308], [6307, s6307], [6306, s6306], [6305, s6305], [6304, s6304],
    [6303, s6303], [6302, s6302], [6301, s6301], [6300, s6300], [6299, s6299], [6298, s6298],
    [6297, s6297], [6296, s6296], [6295, s6295], [6294, s6294], [6293, s6293], [6292, s6292],
    [6291, s6291], [6290, s6290], [6286, s6286], [6283, s6283], [6282, s6282],
];

const points = levels.flatMap(([level, samples]) => samples.map((sample) => ({ x: sample, y: level })));

const fontFamily = '"DejaVu Sans"';

// top and right spines, matplotlib draws all four
const framePlugin = {
    id: 'frame',
    afterDatasetsDraw(chart) {
        const { ctx, chartArea } = chart;
        const top = Math.floor(chartArea.top) - 0.5;
        const right = Math.floor(chartArea.right) + 0.5;
        const bottom = Math.floor(chartArea.bottom) + 0.5;
        ctx.save();
        ctx.strokeStyle = '#000';
        ctx.lineWidth = 1;
        ctx.beginPath();
        ctx.moveTo(chartArea.left - 1, top);
        ctx.lineTo(right, top);
        ctx.lineTo(right, bottom);
        ctx.stroke();
        ctx.restore();
    },
};

// legend box with the mu/sigma line
const statsLegendPlugin = {
    id: 'statsLegend',
    afterDraw(chart) {
        const { ctx } = chart;
        ctx.save();
        ctx.beginPath();
        ctx.roundRect(772.5, 42.5, 206, 45, 3);
        ctx.fillStyle = 'rgba(255, 255, 255, 0.8)';
        ctx.fill();
        ctx.strokeStyle = '#cccccc';
        ctx.lineWidth = 1;
        ctx.stroke();

        ctx.fillStyle = '#000';
        ctx.beginPath();
        ctx.arc(791, 65.3, 2.85, 0, Math.PI * 2);
        ctx.fill();

        ctx.textBaseline = 'alphabetic';
        ctx.textAlign = 'left';
        ctx.font = `13.89px ${fontFamily}`;
        ctx.fillText(seriesLabel, 816, 59);

        let cursor = 816;
        const parts = [
            ['\u03bc', true], [` = ${meanText}, `, false],
            ['\u03c3', true], [` = ${sigmaText}`, false],
        ];
        parts.forEach(([text, italic]) => {
            ctx.font = `${italic ? 'italic ' : ''}13.89px ${fontFamily}`;
            ctx.fillText(text, cursor, 76);
            cursor += ctx.measureText(text).width;
        });
        ctx.restore();
    },
};

new Chart(document.getElementById('chart'), {
    type: 'scatter',
    data: {
        datasets: [{
            label: seriesLabel,
            data: points,
            backgroundColor: '#000',
            borderWidth: 0,
            pointRadius: 2.85,
        }],
    },
    options: {
        responsive: false,
        animation: false,
        devicePixelRatio: 1,
        layout: { padding: { right: 15 } },
        font: { family: fontFamily },
        plugins: {
            legend: { display: false },
            tooltip: { enabled: false },
            title: {
                display: true,
                text: chartTitle,
                fullSize: false,
                color: '#000',
                font: { family: fontFamily, size: 16.67, weight: 'normal' },
                padding: { top: 12.5, bottom: 3 },
            },
        },
        scales: {
            x: {
                type: 'linear',
                min: -484,
                max: 10454,
                afterFit(scale) { scale.height = 57.5; },
                afterBuildTicks(scale) { scale.ticks = xTicks.map((value) => ({ value })); },
                grid: { color: '#b0b0b0', lineWidth: 1, tickColor: '#000', tickLength: 5 },
                border: { color: '#000', width: 1 },
                ticks: {
                    color: '#000',
                    padding: 4,
                    maxRotation: 0,
                    autoSkip: false,
                    font: { family: fontFamily, size: 13.89 },
                    callback: (value) => String(value),
                },
                title: {
                    display: true,
                    text: xLabel,
                    color: '#000',
                    font: { family: fontFamily, size: 13.89 },
                    padding: { top: 4, bottom: 13 },
                },
            },
            y: {
                type: 'linear',
                min: 6278.78,
                max: 6349.27,
                afterFit(scale) { scale.width = 81; },
                afterBuildTicks(scale) { scale.ticks = yTicks.map((value) => ({ value })); },
                grid: { color: '#b0b0b0', lineWidth: 1, tickColor: '#000', tickLength: 5 },
                border: { color: '#000', width: 1 },
                ticks: {
                    color: '#000',
                    padding: 7,
                    autoSkip: false,
                    font: { family: fontFamily, size: 13.89 },
                    callback: (value) => String(value),
                },
                title: {
                    display: true,
                    text: yLabel,
                    color: '#000',
                    font: { family: fontFamily, size: 13.89 },
                    padding: { top: 13, bottom: 0 },
                },
            },
        },
    },
    plugins: [framePlugin, statsLegendPlugin],
});
</script>
</body>
</html>
